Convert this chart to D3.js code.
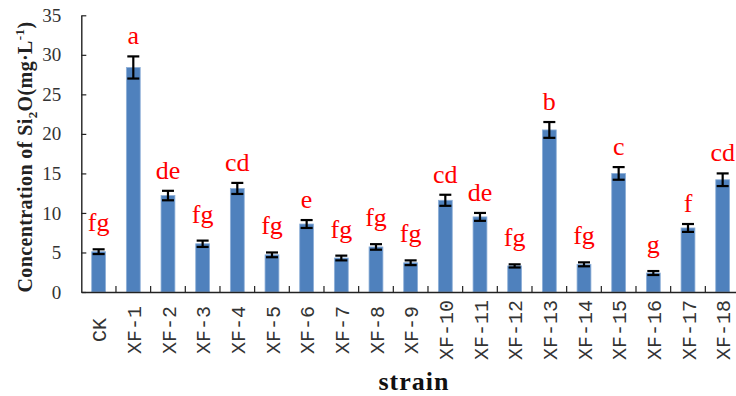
<!DOCTYPE html>
<html lang="en">
<head>
<meta charset="UTF-8">
<script src="https://cdnjs.cloudflare.com/ajax/libs/d3/7.8.5/d3.min.js"></script>
<style>
  body { margin: 0; background: #fff; }
  svg { display: block; }
</style>
</head>
<body>
<div id="chart"></div>
<script>
const categories = ['CK', 'XF-1', 'XF-2', 'XF-3', 'XF-4', 'XF-5', 'XF-6', 'XF-7', 'XF-8', 'XF-9',
  'XF-10', 'XF-11', 'XF-12', 'XF-13', 'XF-14', 'XF-15', 'XF-16', 'XF-17', 'XF-18'];
const values = [5.1, 28.4, 12.2, 6.1, 13.1, 4.7, 8.6, 4.3, 5.7, 3.7, 11.6, 9.5, 3.3, 20.5, 3.5, 15.0, 2.4, 8.1, 14.2];
const errors = [0.3, 1.4, 0.6, 0.4, 0.7, 0.3, 0.5, 0.3, 0.35, 0.3, 0.7, 0.5, 0.2, 1.0, 0.25, 0.8, 0.25, 0.5, 0.8];
const letters = ['fg', 'a', 'de', 'fg', 'cd', 'fg', 'e', 'fg', 'fg', 'fg', 'cd', 'de', 'fg', 'b', 'fg', 'c', 'g', 'f', 'cd'];
const yTicks = [0, 5, 10, 15, 20, 25, 30, 35];

const width = 736, height = 396;
const mLeft = 81.3, mRight = 740, mTop = 15.3, mBottom = 292;

const data = categories.map((c, i) => ({ name: c, value: values[i], err: errors[i], letter: letters[i] }));

const svg = d3.select('#chart').append('svg')
  .attr('width', width)
  .attr('height', height);

const x = d3.scaleBand().domain(categories).range([mLeft, mRight]).paddingInner(0.6).paddingOuter(0.3);
const y = d3.scaleLinear().domain([0, 35]).range([mBottom, mTop]);
const step = x.step();
const cx = d => x(d.name) + x.bandwidth() / 2;

// bars
svg.selectAll('rect.bar')
  .data(data)
  .enter()
  .append('rect')
  .attr('class', 'bar')
  .attr('x', d => x(d.name))
  .attr('y', d => y(d.value))
  .attr('width', x.bandwidth())
  .attr('height', d => y(0) - y(d.value))
  .style('fill', '#4f81bd')
  .style('stroke', '#8fb0d8')
  .style('stroke-width', 0.8);

// error bars
const eb = svg.append('g').attr('stroke', '#000').attr('stroke-width', 2.2);
eb.selectAll('line.v')
  .data(data)
  .enter()
  .append('line')
  .attr('x1', cx).attr('x2', cx)
  .attr('y1', d => y(d.value + d.err))
  .attr('y2', d => y(d.value - d.err));
eb.selectAll('line.t')
  .data(data)
  .enter()
  .append('line')
  .attr('x1', d => cx(d) - 6).attr('x2', d => cx(d) + 6)
  .attr('y1', d => y(d.value + d.err)).attr('y2', d => y(d.value + d.err));
eb.selectAll('line.b')
  .data(data)
  .enter()
  .append('line')
  .attr('x1', d => cx(d) - 6).attr('x2', d => cx(d) + 6)
  .attr('y1', d => y(d.value - d.err)).attr('y2', d => y(d.value - d.err));

// significance letters
svg.selectAll('text.sig')
  .data(data)
  .enter()
  .append('text')
  .attr('class', 'sig')
  .attr('x', cx)
  .attr('y', d => y(d.value + d.err) - (d.letter.includes('g') ? 18 : 12))
  .attr('text-anchor', 'middle')
  .style('font-family', '"Liberation Serif", "Times New Roman", serif')
  .style('font-size', '26px')
  .style('fill', '#ff0000')
  .text(d => d.letter);

// y axis
const yAxis = d3.axisLeft(y).tickValues(yTicks).tickSizeInner(-5).tickSizeOuter(0).tickPadding(20);
const gy = svg.append('g')
  .attr('transform', `translate(${mLeft},0)`)
  .call(yAxis);
gy.select('.domain').attr('stroke', '#222').attr('stroke-width', 1.4);
gy.selectAll('.tick line').attr('stroke', '#222').attr('stroke-width', 1.2);
gy.selectAll('.tick text')
  .style('font-family', '"Liberation Serif", "Times New Roman", serif')
  .style('font-size', '19px')
  .style('fill', '#333');

// x axis
const xAxis = d3.axisBottom(x).tickSize(0).tickFormat('');
const gx = svg.append('g')
  .attr('transform', `translate(0,${mBottom})`)
  .call(xAxis);
gx.select('.domain').attr('stroke', '#222').attr('stroke-width', 1.4);
gx.selectAll('line.sep')
  .data(categories.slice(1))
  .enter()
  .append('line')
  .attr('class', 'sep')
  .attr('x1', c => x(c) - step * 0.3)
  .attr('x2', c => x(c) - step * 0.3)
  .attr('y1', 0).attr('y2', -6)
  .attr('stroke', '#222').attr('stroke-width', 1.2);

// rotated category labels
svg.selectAll('text.cat')
  .data(data)
  .enter()
  .append('text')
  .attr('class', 'cat')
  .attr('transform', d => `translate(${cx(d) + 1},330) rotate(-90)`)
  .attr('dy', '0.33em')
  .attr('text-anchor', 'middle')
  .style('font-family', '"Liberation Mono", "Courier New", monospace')
  .style('font-size', '20px')
  .style('fill', '#333')
  .text(d => d.name);

// axis titles
svg.append('text')
  .attr('x', 414)
  .attr('y', 390)
  .attr('text-anchor', 'middle')
  .style('font-family', '"Liberation Serif", "Times New Roman", serif')
  .style('font-weight', 'bold')
  .style('font-size', '26px')
  .style('letter-spacing', '1px')
  .style('fill', '#111')
  .text('strain');

const yt = svg.append('text')
  .attr('transform', 'translate(32,157) rotate(-90)')
  .attr('text-anchor', 'middle')
  .style('font-family', '"Liberation Serif", "Times New Roman", serif')
  .style('font-weight', 'bold')
  .style('font-size', '20px')
  .style('letter-spacing', '0.4px')
  .style('fill', '#222');
yt.append('tspan').text('Concentration of Si');
yt.append('tspan').attr('dy', 5).style('font-size', '13px').text('2');
yt.append('tspan').attr('dy', -5).text('O(mg·L');
yt.append('tspan').attr('dy', -8).style('font-size', '13px').text('-1');
yt.append('tspan').attr('dy', 8).text(')');
</script>
</body>
</html>
